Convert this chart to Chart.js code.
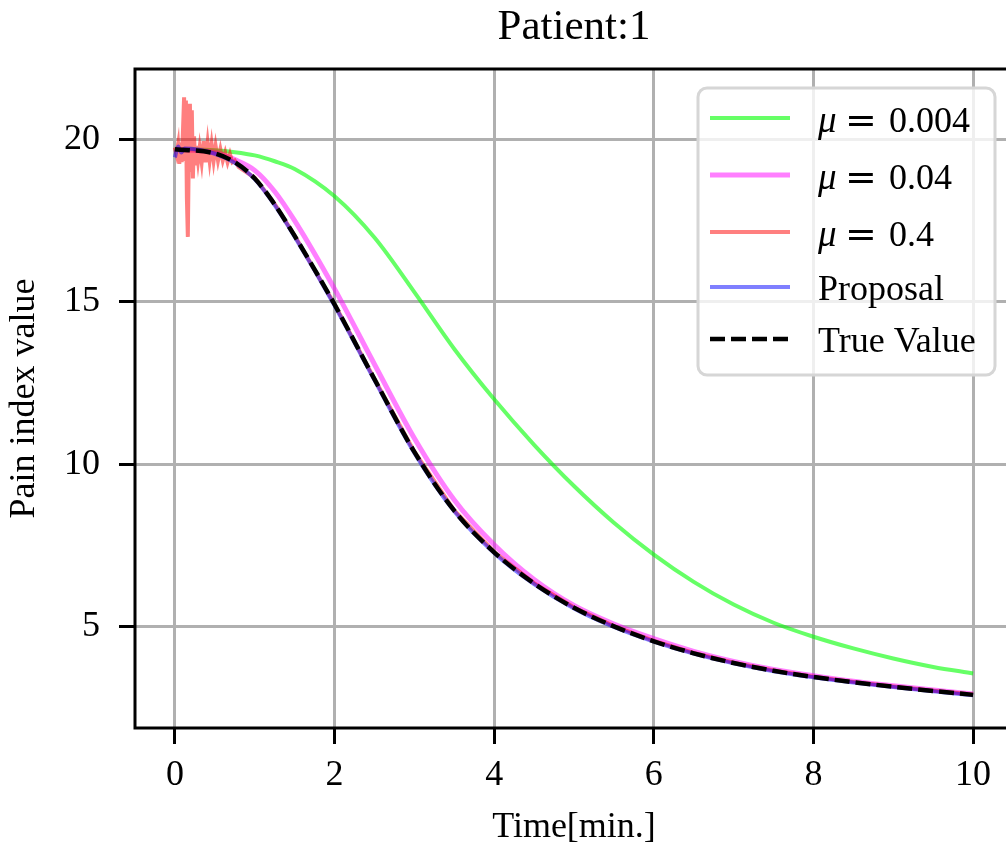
<!DOCTYPE html>
<html>
<head>
<meta charset="utf-8">
<title>Patient 1</title>
<script src="https://cdn.jsdelivr.net/npm/chart.js@4.4.0/dist/chart.umd.min.js"></script>
<style>
  html, body { margin: 0; padding: 0; background: #fff; overflow: hidden; }
  canvas { display: block; }
</style>
</head>
<body>
<canvas id="pain" width="1020" height="846"></canvas>
<script>
// time axis [min.] shared by the smooth curves (denser where they bend)
const timeGrid = [0, 0.5, 0.75, 1, 1.25, 1.5, 2, 2.5, 3, 3.5, 4, 4.5, 5, 5.5, 6, 6.5, 7, 7.5, 8, 8.5, 9, 9.5, 10];

const trueValue = [19.70, 19.57, 19.30, 18.80, 18.00, 17.03, 14.92, 12.62, 10.38, 8.57, 7.29, 6.33, 5.58, 5.01, 4.55, 4.18, 3.88, 3.64, 3.45, 3.29, 3.15, 3.02, 2.90];
const mu0004 = [19.71, 19.67, 19.61, 19.51, 19.33, 19.09, 18.25, 16.98, 15.30, 13.55, 12.00, 10.60, 9.33, 8.20, 7.22, 6.38, 5.68, 5.12, 4.69, 4.33, 4.02, 3.76, 3.56];
const mu004 = [19.70, 19.60, 19.38, 19.05, 18.40, 17.50, 15.40, 13.08, 10.80, 8.90, 7.52, 6.45, 5.65, 5.08, 4.63, 4.24, 3.93, 3.68, 3.49, 3.32, 3.18, 3.05, 2.93];

// proposal has a few extra samples at the start
const proposalTime = [0, 0.04, 0.08, 0.12, 0.5, 0.75, 1, 1.25, 1.5, 2, 2.5, 3, 3.5, 4, 4.5, 5, 5.5, 6, 6.5, 7, 7.5, 8, 8.5, 9, 9.5, 10];
const proposal = [19.45, 19.78, 19.60, 19.72, 19.56, 19.28, 18.78, 17.98, 17.01, 14.89, 12.59, 10.35, 8.55, 7.27, 6.31, 5.56, 4.99, 4.54, 4.17, 3.87, 3.63, 3.44, 3.28, 3.14, 3.01, 2.89];

// mu = 0.4 oscillates during the first minute, so it is sampled finely there
const mu04Time = [0, 0.02, 0.04, 0.055, 0.07, 0.085, 0.1, 0.115, 0.128, 0.138,
  0.15, 0.162, 0.175, 0.188, 0.2, 0.212, 0.225, 0.24, 0.255, 0.27,
  0.29, 0.31, 0.335, 0.36, 0.385, 0.41, 0.435, 0.46, 0.485, 0.51,
  0.54, 0.57, 0.6, 0.63, 0.66, 0.69, 0.72, 0.75, 0.8,
  1, 1.25, 1.5, 2, 2.5, 3, 3.5, 4, 4.5, 5, 5.5, 6, 6.5, 7, 7.5, 8, 8.5, 9, 9.5, 10];
const mu04 = [19.75, 19.55, 19.85, 19.25, 19.9, 19.3, 20.2, 21.3, 19.4, 21.2,
  18.2, 17.0, 19.8, 21.1, 19.0, 20.9, 18.8, 20.1, 19.2, 19.8,
  19.35, 19.75, 19.3, 19.95, 19.3, 19.9, 19.35, 19.85, 19.35, 19.8,
  19.35, 19.7, 19.35, 19.6, 19.3, 19.55, 19.3, 19.35, 19.15,
  18.82, 18.02, 17.04, 14.93, 12.63, 10.39, 8.58, 7.30, 6.34, 5.59, 5.02, 4.56, 4.19, 3.89, 3.65, 3.46, 3.30, 3.16, 3.03, 2.91];

const xTicks = { min: -0.5, max: 10.5, step: 2 };
const yTicks = { min: 1.88, max: 22.17, step: 5 };

const points = (xs, ys) => xs.map((x, i) => ({ x: x, y: ys[i] }));

const SERIF = '"Liberation Serif", "Times New Roman", serif';
Chart.defaults.font.family = SERIF;
Chart.defaults.color = '#000';

// spines on all four sides plus the boxed legend in the upper right
const frameAndLegend = {
  id: 'frameAndLegend',
  afterDatasetsDraw(chart) {
    const { ctx, chartArea: a } = chart;
    ctx.save();
    ctx.strokeStyle = '#000';
    ctx.lineWidth = 3;
    ctx.strokeRect(a.left, a.top, a.right - a.left, a.bottom - a.top);

    const bx = a.right - 315, by = a.top + 19, bw = 297, bh = 287;
    ctx.beginPath();
    ctx.roundRect(bx, by, bw, bh, 9);
    ctx.fillStyle = 'rgba(255,255,255,0.8)';
    ctx.fill();
    ctx.strokeStyle = '#d6d6d6';
    ctx.lineWidth = 3;
    ctx.stroke();

    const rows = [30, 87, 144, 199, 251];
    chart.data.datasets.forEach((ds, i) => {
      const y = by + rows[i];
      ctx.beginPath();
      ctx.moveTo(bx + 12, y);
      ctx.lineTo(bx + 92, y);
      ctx.strokeStyle = ds.borderColor;
      ctx.lineWidth = ds.borderWidth;
      ctx.setLineDash(ds.borderDash || []);
      ctx.stroke();
      ctx.setLineDash([]);

      const tx = bx + 120;
      ctx.fillStyle = '#000';
      ctx.textBaseline = 'alphabetic';
      ctx.textAlign = 'left';
      if (ds.label.startsWith('μ')) {
        ctx.font = 'italic 37px ' + SERIF;
        ctx.fillText('μ', tx, y + 14);
        ctx.font = '38px "DejaVu Serif"';
        ctx.textAlign = 'center';
        ctx.fillText('=', tx + 43, y + 15);
        ctx.textAlign = 'left';
        ctx.font = '36px ' + SERIF;
        ctx.fillText(ds.label.split('=')[1].trim(), tx + 71, y + 14);
      } else {
        ctx.font = '36px ' + SERIF;
        ctx.fillText(ds.label, tx, y + 13);
      }
    });
    ctx.restore();
  }
};

const grid = { color: '#b0b0b0', lineWidth: 3, tickColor: '#000', tickWidth: 3, tickLength: 16 };

new Chart(document.getElementById('pain'), {
  type: 'line',
  data: {
    datasets: [
      { label: 'μ = 0.004', data: points(timeGrid, mu0004), borderColor: 'rgba(0,255,0,0.6)', borderWidth: 4, order: 5, cubicInterpolationMode: 'monotone' },
      { label: 'μ = 0.04', data: points(timeGrid, mu004), borderColor: 'rgba(255,0,255,0.5)', borderWidth: 5, order: 4, cubicInterpolationMode: 'monotone' },
      { label: 'μ = 0.4', data: points(mu04Time, mu04), borderColor: 'rgba(255,0,0,0.5)', borderWidth: 4, order: 3, tension: 0 },
      { label: 'Proposal', data: points(proposalTime, proposal), borderColor: 'rgba(0,0,255,0.5)', borderWidth: 4, order: 2, cubicInterpolationMode: 'monotone' },
      { label: 'True Value', data: points(timeGrid, trueValue), borderColor: '#000', borderWidth: 4.5, borderDash: [15, 6], order: 1, cubicInterpolationMode: 'monotone' }
    ]
  },
  options: {
    responsive: false,
    animation: false,
    devicePixelRatio: 1,
    elements: { point: { radius: 0 }, line: { fill: false } },
    layout: { padding: { left: 0, right: 7, top: 0, bottom: 0 } },
    plugins: {
      legend: { display: false },
      tooltip: { enabled: false },
      title: {
        display: true,
        text: 'Patient:1',
        fullSize: false,
        color: '#000',
        font: { family: SERIF, size: 43, weight: 'normal' },
        padding: { top: 2, bottom: 15.4 }
      }
    },
    scales: {
      x: {
        type: 'linear',
        min: xTicks.min,
        max: xTicks.max,
        afterFit(s) { s.height = 118; },
        ticks: { stepSize: xTicks.step, includeBounds: false, color: '#000', padding: 10, maxRotation: 0, font: { size: 36 } },
        grid: grid,
        border: { display: false },
        title: { display: true, text: 'Time[min.]', color: '#000', font: { size: 36, lineHeight: 1 }, padding: { top: 0, bottom: 0 } }
      },
      y: {
        min: yTicks.min,
        max: yTicks.max,
        afterFit(s) { s.width = 135; },
        ticks: { stepSize: yTicks.step, includeBounds: false, color: '#000', padding: 19, font: { size: 36 } },
        grid: grid,
        border: { display: false },
        title: { display: true, text: 'Pain index value', color: '#000', font: { size: 36, lineHeight: 1 }, padding: { top: 7, bottom: 0 } }
      }
    }
  },
  plugins: [frameAndLegend]
});
</script>
</body>
</html>
